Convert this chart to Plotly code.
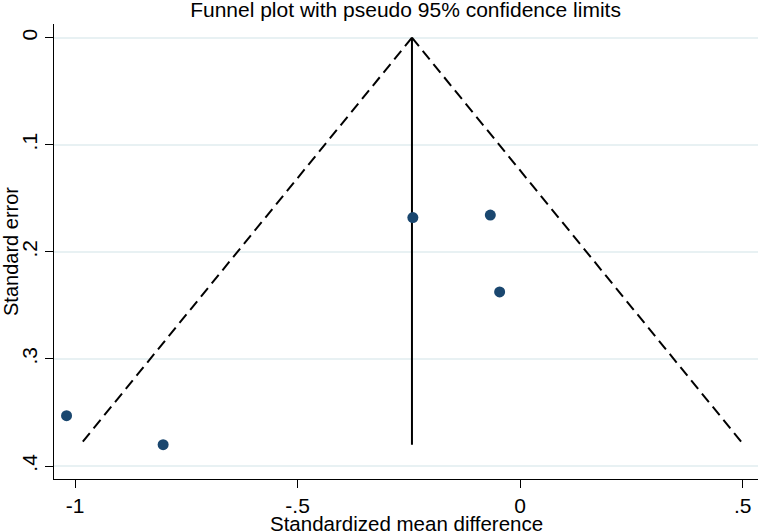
import plotly.graph_objects as go

# Study estimates
smd = [-1.019, -0.802, -0.241, -0.067, -0.046]
se = [0.353, 0.380, 0.168, 0.1656, 0.2374]

# Pooled estimate and pseudo 95% confidence limits
pooled_x = [-0.243, -0.243]
pooled_se = [0.0, 0.380]
funnel_left_x = [-0.243, -0.988]
funnel_right_x = [-0.243, 0.502]
funnel_se = [0.0, 0.380]

x_ticks = [-1, -0.5, 0, 0.5]
x_labels = ["-1", "-.5", "0", ".5"]
y_ticks = [0, 0.1, 0.2, 0.3, 0.4]
y_labels = ["0", ".1", ".2", ".3", ".4"]

fig = go.Figure()
for fx in (funnel_left_x, funnel_right_x):
    fig.add_trace(go.Scatter(x=fx, y=funnel_se, mode="lines",
                             line=dict(color="black", width=2, dash="11px,6px"),
                             showlegend=False, hoverinfo="skip"))
fig.add_trace(go.Scatter(x=pooled_x, y=pooled_se, mode="lines",
                         line=dict(color="black", width=2),
                         showlegend=False, hoverinfo="skip"))
fig.add_trace(go.Scatter(x=smd, y=se, mode="markers",
                         marker=dict(color="#1a476f", size=11),
                         showlegend=False))

font = dict(family="Liberation Sans, Arial, sans-serif", color="black")
fig.update_layout(
    width=758, height=531,
    margin=dict(l=54, r=0, t=24, b=52, autoexpand=False),
    paper_bgcolor="white", plot_bgcolor="white",
    font=dict(**font, size=21),
    title=dict(text="Funnel plot with pseudo 95% confidence limits",
               x=0.535, xanchor="center", y=0.982, yanchor="middle",
               font=dict(**font, size=21)),
    xaxis=dict(range=[-1.0472, 0.5344], tickvals=x_ticks, ticktext=x_labels,
               showgrid=False, zeroline=False, showline=True, automargin=False,
               linecolor="black", linewidth=1, ticks="outside", ticklen=8,
               tickcolor="black", tickfont=dict(**font, size=21)),
    yaxis=dict(range=[0.4121, -0.0128], tickvals=y_ticks, ticktext=y_labels,
               showgrid=True, gridcolor="#e8f1f3", gridwidth=1.5, automargin=False,
               zeroline=False, showline=True, linecolor="black", linewidth=1,
               ticks="outside", ticklen=8, tickcolor="black", tickangle=-90,
               tickfont=dict(**font, size=21),
               title=dict(text="Standard error", standoff=2,
                          font=dict(**font, size=20))),
    annotations=[dict(text="Standardized mean difference", xref="paper", yref="paper",
                      x=0.5, y=-0.097, xanchor="center", yanchor="middle",
                      showarrow=False, font=dict(**font, size=20.5))],
)

fig.write_html("out.html", config={"displayModeBar": False},
               post_script="document.body.style.margin='0px';document.body.style.overflow='hidden';")
